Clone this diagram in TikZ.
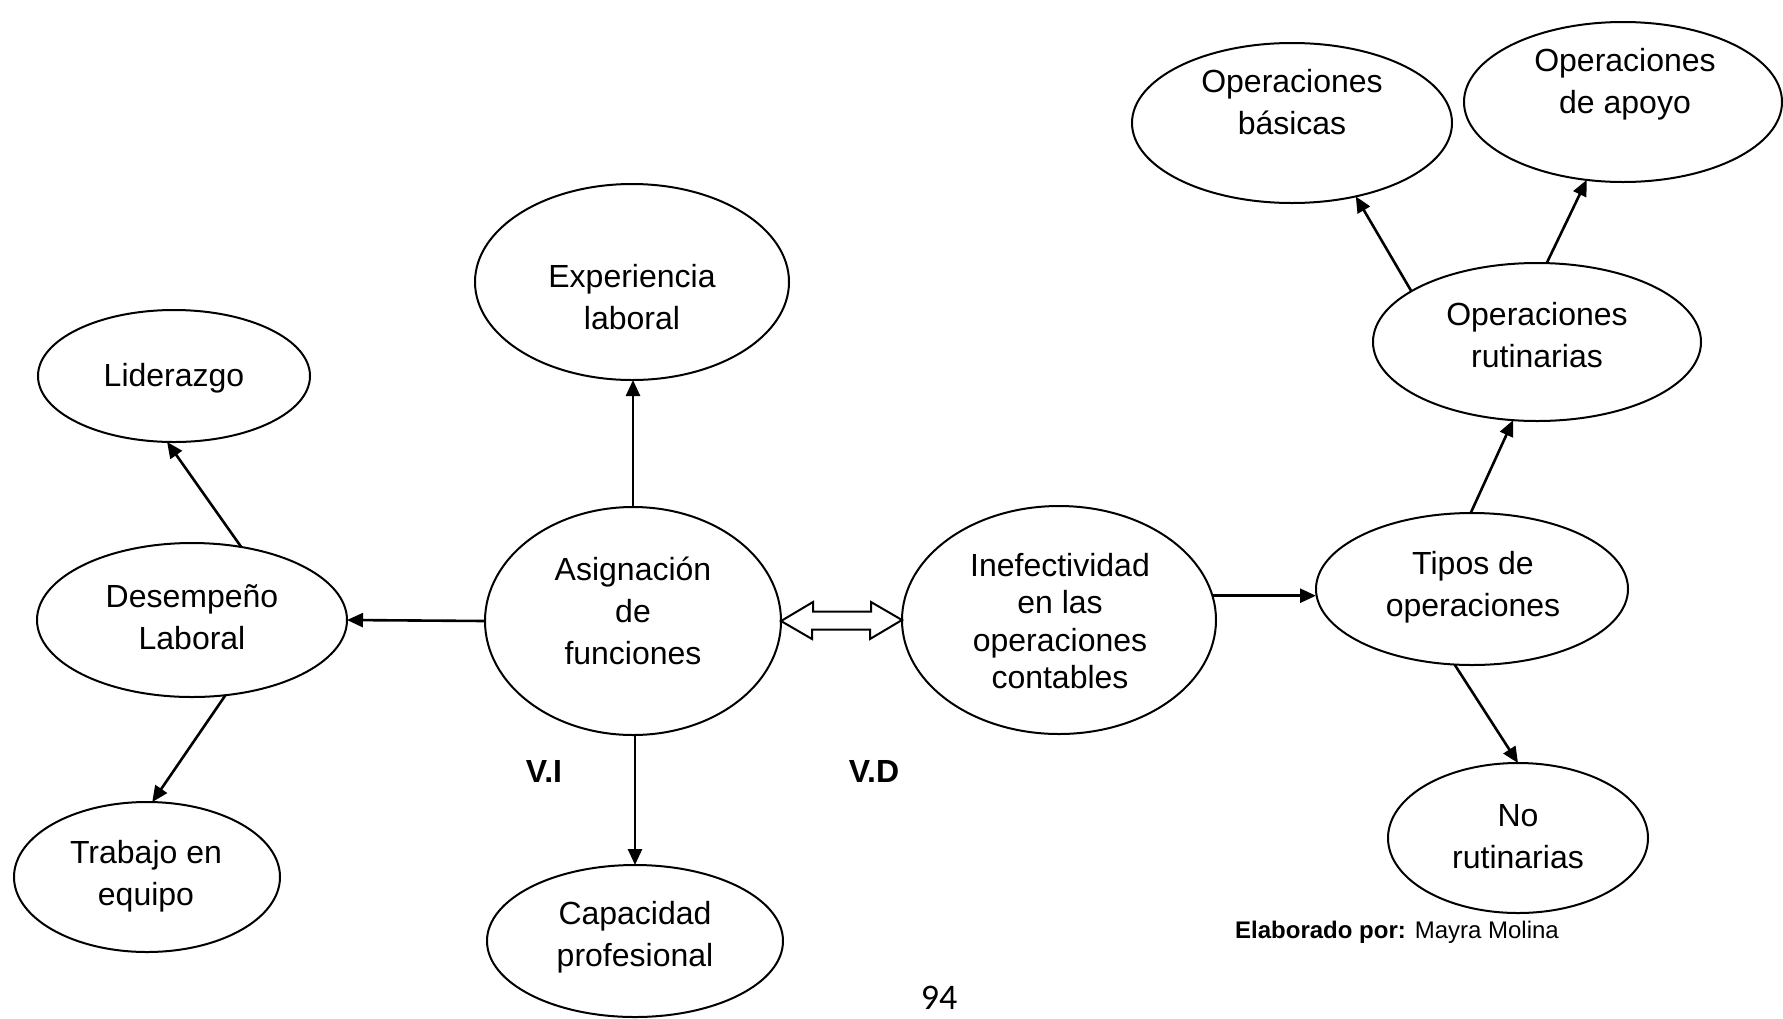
\documentclass[tikz,border=0pt]{standalone}
\usepackage{fontspec}
\setmainfont{Liberation Sans}
\newfontfamily\pagefont{Carlito}
\usetikzlibrary{arrows.meta,calc,shapes.geometric}
\tikzset{
  oval/.style={draw, ellipse, line width=1pt, inner sep=0pt, outer sep=0pt},
  txt/.style={align=center, font=\fontsize{16}{21}\selectfont, inner sep=0pt},
  arr/.style={line width=1.3pt, -{Triangle[length=8pt,width=7pt]}},
  dbl/.style={line width=1pt, line join=miter},
  tag/.style={font=\fontsize{16}{19}\selectfont\bfseries, inner sep=0pt}
}
\begin{document}
\begin{tikzpicture}[x=0.5pt,y=-0.5pt]
\useasboundingbox (0,0) rectangle (1783,1018);
% ellipses
\node[oval, minimum width=136pt, minimum height=66pt] (lider) at (174,376) {};
\node[oval, minimum width=157pt, minimum height=98pt] (exp) at (632,282) {};
\node[oval, minimum width=155pt, minimum height=77pt] (desemp) at (192,620) {};
\node[oval, minimum width=133pt, minimum height=75pt] (trab) at (147,877) {};
\node[oval, minimum width=148pt, minimum height=114pt] (asig) at (633,621) {};
\node[oval, minimum width=148pt, minimum height=76pt] (cap) at (635,941) {};
\node[oval, minimum width=157pt, minimum height=114pt] (inef) at (1059,620) {};
\node[oval, minimum width=156pt, minimum height=76pt] (tipos) at (1472,589) {};
\node[oval, minimum width=164pt, minimum height=79pt] (rut) at (1537,342) {};
\node[oval, minimum width=160pt, minimum height=80pt] (bas) at (1292,123) {};
\node[oval, minimum width=159pt, minimum height=80pt] (apoyo) at (1623,102) {};
\node[oval, minimum width=130pt, minimum height=75pt] (norut) at (1518,838) {};
% texts
\node[txt] (tlider) at (174,378) {Liderazgo};
\node[txt] (texp) at (632,297) {Experiencia\\laboral};
\node[txt] (tdesemp) at (192,617) {Desempeño\\Laboral};
\node[txt] (ttrab) at (146,876) {Trabajo en\\equipo};
\node[txt] (tasig) at (633,611) {Asignación\\de\\funciones};
\node[txt] (tcap) at (635,937) {Capacidad\\profesional};
\node[txt, font=\fontsize{16}{18.8}\selectfont] (tinef) at (1060,621) {Inefectividad\\en las\\operaciones\\contables};
\node[txt] (ttipos) at (1473,587) {Tipos de\\operaciones};
\node[txt] (trut) at (1537,335) {Operaciones\\rutinarias};
\node[txt] (tbas) at (1292,102) {Operaciones\\básicas};
\node[txt] (tapoyo) at (1625,84) {Operaciones\\de apoyo};
\node[txt] (tnorut) at (1518,837) {No\\rutinarias};
% labels
\node[tag] (vi) at (544,771) {V.I};
\node[tag] (vd) at (874,771) {V.D};
\node[inner sep=0pt, font=\fontsize{12}{14}\selectfont] (elab) at (1397,932) {\textbf{Elaborado por:} Mayra Molina};
\node[inner sep=0pt, font=\pagefont\fontsize{18}{20}\selectfont] (page) at (939,998) {94};
% connectors
\draw[arr] (desemp.56.5) -- (lider.264.4);
\draw[arr] (desemp.-66.7) -- (trab.86.3);
\draw[arr] (asig.west) -- (desemp.east);
\draw[arr] (asig.north) -- (asig.north |- exp.south);
\draw[arr] (cap.north |- asig.south) -- (cap.north);
\draw[arr] (inef.9.5) -- (tipos.west |- inef.9.5);
\draw[arr] (tipos.91.5) -- (rut.253.7);
\draw[arr] (tipos.-103) -- (norut.90);
\draw[arr] (rut.158.6) -- (bas.-49);
\draw[arr] (rut.83.3) -- (apoyo.245);
% double arrow
\draw[dbl] (asig.east) -- ++(32,-19) -- ++(0,9.5) -- ++(58,0) -- ++(0,-9.5)
  -- (inef.west) -- ++(-32,19) -- ++(0,-9.5) -- ++(-58,0) -- ++(0,9.5) -- cycle;
\end{tikzpicture}
\end{document}
